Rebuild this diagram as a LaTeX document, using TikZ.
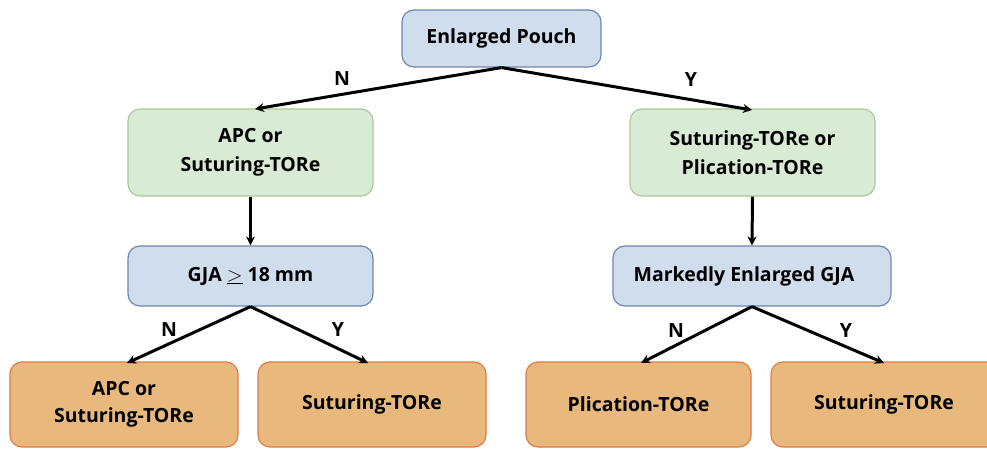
\documentclass[tikz,border=0pt]{standalone}
\usepackage{fontspec}
\setmainfont{Open Sans}
\usetikzlibrary{arrows.meta}
\definecolor{bluef}{HTML}{D0DDEC}
\definecolor{blued}{HTML}{6F86AE}
\definecolor{greenf}{HTML}{D9EBD4}
\definecolor{greend}{HTML}{A8C99C}
\definecolor{orangef}{HTML}{E8B87C}
\definecolor{oranged}{HTML}{E07A4A}
\tikzset{
  box/.style={rounded corners=12pt, line width=1.2pt, align=center, font=\fontsize{19.5}{29}\selectfont\bfseries, inner sep=0pt},
  bluebox/.style={box, draw=blued, fill=bluef},
  greenbox/.style={box, draw=greend, fill=greenf},
  orangebox/.style={box, draw=oranged, fill=orangef},
  conn/.style={line width=3pt, -{Stealth[length=9pt,width=9pt]}},
  lab/.style={font=\fontsize{19.5}{20}\selectfont\bfseries}
}
\begin{document}
\begin{tikzpicture}[x=1pt,y=-1pt]
\useasboundingbox (0,0) rectangle (987,449);
\clip (0,0) rectangle (987,449);
\fill[white] (0,0) rectangle (987,449);
% boxes
\node[bluebox, minimum width=199pt, minimum height=57pt] (ep) at (501.5,38.5) {Enlarged Pouch};
\node[greenbox, minimum width=245pt, minimum height=87pt] (lg) at (250.5,152.5) {APC or\\Suturing-TORe};
\node[greenbox, minimum width=245pt, minimum height=87pt] (rg) at (752.5,152.5) {Suturing-TORe or\\Plication-TORe};
\node[bluebox, minimum width=245pt, minimum height=60pt] (gja) at (250.5,276) {GJA $\underline{>}$ 18 mm};
\node[bluebox, minimum width=278pt, minimum height=60pt] (meg) at (752,276) {Markedly Enlarged GJA\hspace*{16pt}};
\node[orangebox, minimum width=228pt, minimum height=85pt, font=\fontsize{19.5}{27}\selectfont\bfseries] (b1) at (124,404.5) {APC or\\Suturing-TORe};
\node[orangebox, minimum width=228pt, minimum height=85pt] (b2) at (372,404.5) {Suturing-TORe};
\node[orangebox, minimum width=225pt, minimum height=85pt] (b3) at (638.5,404.5) {Plication-TORe};
\node[orangebox, minimum width=230pt, minimum height=85pt, text width=228pt] (b4) at (886,404.5) {\hspace*{-4pt}Suturing-TORe};
% connectors
\coordinate (epb) at (ep.south);
\draw[conn] (epb) -- (255,109) coordinate (lgt);
\draw[conn] (epb) -- (752,110) coordinate (rgt);
\draw[conn] (lg.south) -- (gja.north);
\draw[conn] (rg.south) -- (meg.north);
\draw[conn] (gja.south) -- (127,363) coordinate (b1t);
\draw[conn] (gja.south) -- (368,363) coordinate (b2t);
\draw[conn] (meg.south) -- (641,363) coordinate (b3t);
\draw[conn] (meg.south) -- (884,363) coordinate (b4t);
% labels
\node[lab] (n1) at (342,79) {N};
\node[lab] (y1) at (691,80) {Y};
\node[lab] (n2) at (169,330) {N};
\node[lab] (y2) at (338,330) {Y};
\node[lab] (n3) at (676,331) {N};
\node[lab] (y3) at (846,331) {Y};
\end{tikzpicture}
\end{document}
